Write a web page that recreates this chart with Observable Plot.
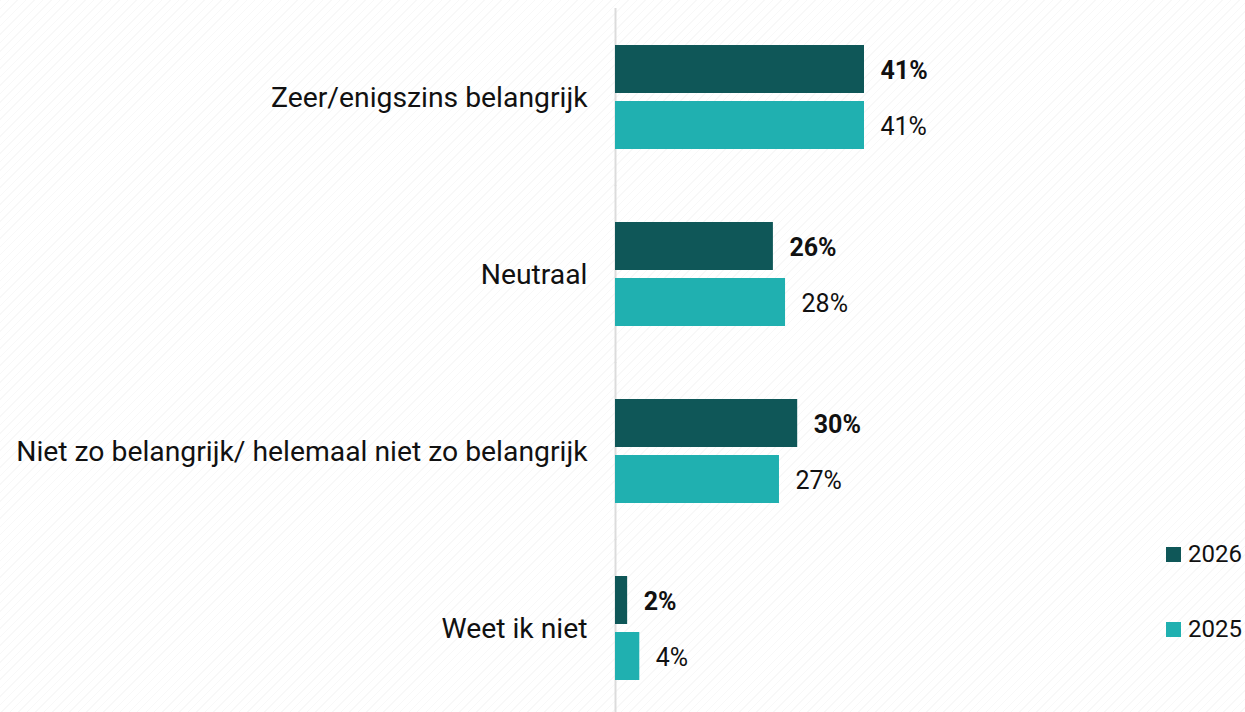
<!DOCTYPE html>
<html>
<head>
<meta charset="utf-8">
<script src="https://cdn.jsdelivr.net/npm/d3@7"></script>
<script src="https://cdn.jsdelivr.net/npm/@observablehq/plot@0.6"></script>
<style>
  html, body { margin: 0; padding: 0; }
  body {
    width: 1245px; height: 712px; overflow: hidden;
    background-color: #fff;
    background-image: repeating-linear-gradient(135deg, rgba(0,0,0,0.028) 0 1px, transparent 1px 6px);
    font-family: Roboto, "Noto Sans", sans-serif;
  }
  #wrap { position: relative; width: 1245px; height: 712px; }
  #chart svg { background: transparent !important; display: block; }
  .legend { position: absolute; left: 1166px; font-size: 24px; color: #111; display: flex; align-items: center; }
  .legend span.sw { display: inline-block; width: 15px; height: 15px; margin-right: 7px; }
</style>
</head>
<body>
<div id="wrap">
  <div id="chart"></div>
  <div id="legend"></div>
</div>
<script>
const categories = [
  "Zeer/enigszins belangrijk",
  "Neutraal",
  "Niet zo belangrijk/ helemaal niet zo belangrijk",
  "Weet ik niet"
];
const years = ["2026", "2025"];
const values2026 = [41, 26, 30, 2];
const values2025 = [41, 28, 27, 4];
const colors = ["#0f5758", "#20b0b0"];

const data = [];
categories.forEach((c, i) => {
  data.push({category: c, year: "2026", value: values2026[i]});
  data.push({category: c, year: "2025", value: values2025[i]});
});

const chart = Plot.plot({
  width: 1245,
  height: 712,
  marginLeft: 615,
  marginRight: 22.7,
  marginTop: 45,
  marginBottom: 32,
  style: {background: "transparent", fontFamily: "Roboto, 'Noto Sans', sans-serif", color: "#111"},
  x: {domain: [0, 100], axis: null},
  fy: {domain: categories, paddingInner: 73/177, paddingOuter: 0, round: false, label: null},
  y: {domain: years, paddingInner: 8/56, paddingOuter: 0, round: false, axis: null},
  color: {domain: years, range: colors},
  marks: [
    Plot.ruleX([0], {stroke: "#dcdcdc", strokeWidth: 2, insetTop: -37, insetBottom: -37}),
    Plot.axisFy({anchor: "left", tickSize: 0, tickPadding: 28, fontSize: 28.3, label: null, fill: "#111"}),
    Plot.barX(data, {fy: "category", y: "year", x: "value", fill: "year"}),
    Plot.text(data.filter(d => d.year === "2026"), {
      fy: "category", y: "year", x: "value", text: d => d.value + "%",
      textAnchor: "start", dx: 16, dy: 1, fontSize: 25, fontWeight: "bold", fill: "#111"
    }),
    Plot.text(data.filter(d => d.year === "2025"), {
      fy: "category", y: "year", x: "value", text: d => d.value + "%",
      textAnchor: "start", dx: 16, dy: 1, fontSize: 25, fill: "#111"
    })
  ]
});
document.getElementById("chart").appendChild(chart);

const legend = document.getElementById("legend");
const legendTops = [540, 615];
years.forEach((y, i) => {
  const div = document.createElement("div");
  div.className = "legend";
  div.style.top = legendTops[i] + "px";
  div.innerHTML = `<span class="sw" style="background:${colors[i]}"></span>${y}`;
  legend.appendChild(div);
});
</script>
</body>
</html>
